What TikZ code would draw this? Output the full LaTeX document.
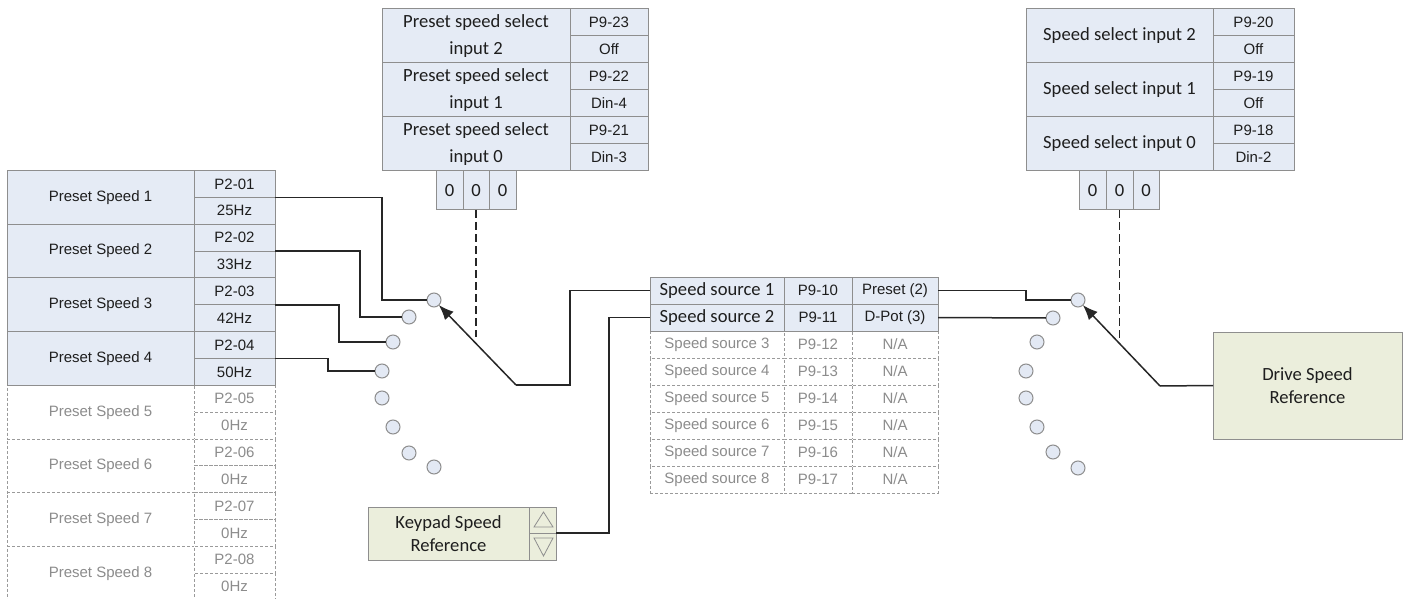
\documentclass[tikz,border=0pt]{standalone}
\usepackage{fontspec}
\setmainfont{Liberation Sans}
\newfontfamily\calibri{Carlito}
\usetikzlibrary{arrows.meta}
\definecolor{bluef}{HTML}{E5EBF5}
\definecolor{bord}{HTML}{8E8E8E}
\definecolor{dbord}{HTML}{9A9A9A}
\definecolor{txt}{HTML}{1E1E1E}
\definecolor{gtxt}{HTML}{8C8C8C}
\definecolor{greenf}{HTML}{EBEEDC}
\definecolor{circf}{HTML}{E3E9F4}
\definecolor{linec}{HTML}{262626}
\newcommand\arialf{\fontsize{7.5}{9}\selectfont}
\newcommand\calf{\calibri\fontsize{9.3}{13.85}\selectfont}
\newcommand\calfb{\calibri\fontsize{9.3}{11.5}\selectfont}
\newcommand\cellbox[7]{\node[#6, minimum width={(#4-#2)*0.5pt}, minimum height={(#5-#3)*0.5pt}] (#1) at ({(#2+#4)/2},{(#3+#5)/2}) {#7};}
\tikzset{
  cellB/.style={draw=bord, fill=bluef, text=txt, inner sep=0pt, outer sep=0pt, align=center, font=\arialf, line width=0.5pt},
  cellD/.style={draw=dbord, dash pattern=on 1.5pt off 1pt, fill=white, text=gtxt, inner sep=0pt, outer sep=0pt, align=center, font=\arialf, line width=0.4pt},
  greenbox/.style={draw=bord, fill=greenf, text=txt, inner sep=0pt, outer sep=0pt, align=center, line width=0.5pt},
  circ/.style={circle, draw=bord, fill=circf, minimum size=7pt, inner sep=0pt, outer sep=0pt, line width=0.5pt},
  conn/.style={draw=linec, line width=0.75pt},
  tip/.style={-{Latex[length=7.5pt,width=6pt]}},
  dashline/.style={draw=linec, line width=0.8pt, dash pattern=on 4pt off 2pt},
  tri/.style={draw=bord, line width=0.4pt}
}
\begin{document}
\begin{tikzpicture}[x=0.5pt, y=-0.5pt]
\useasboundingbox (0,0) rectangle (1404,599);
% ---------- left table: preset speeds ----------
\foreach \i in {5,6,7,8} {
  \pgfmathsetmacro\ta{170.5+53.7*(\i-1)}
  \pgfmathsetmacro\tb{\ta+53.7}
  \pgfmathsetmacro\tm{\ta+26.85}
  \cellbox{psn\i}{7}{\ta}{194}{\tb}{cellD}{Preset Speed \i}
  \cellbox{psp\i}{194}{\ta}{275}{\tm}{cellD}{P2-0\i}
  \cellbox{psv\i}{194}{\tm}{275}{\tb}{cellD}{0Hz}
}
\foreach \i/\hz in {1/25Hz,2/33Hz,3/42Hz,4/50Hz} {
  \pgfmathsetmacro\ta{170.5+53.7*(\i-1)}
  \pgfmathsetmacro\tb{\ta+53.7}
  \pgfmathsetmacro\tm{\ta+26.85}
  \cellbox{psn\i}{7}{\ta}{194}{\tb}{cellB}{Preset Speed \i}
  \cellbox{psp\i}{194}{\ta}{275}{\tm}{cellB}{P2-0\i}
  \cellbox{psv\i}{194}{\tm}{275}{\tb}{cellB}{\hz}
}
% ---------- top middle table ----------
\cellbox{pi2}{382}{9}{570}{63}{cellB,font=\calf}{Preset speed select\\input 2}
\cellbox{pi2p}{570}{9}{648}{36}{cellB}{P9-23}
\cellbox{pi2v}{570}{36}{648}{63}{cellB}{Off}
\cellbox{pi1}{382}{63}{570}{117}{cellB,font=\calf}{Preset speed select\\input 1}
\cellbox{pi1p}{570}{63}{648}{90}{cellB}{P9-22}
\cellbox{pi1v}{570}{90}{648}{117}{cellB}{Din-4}
\cellbox{pi0}{382}{117}{570}{171}{cellB,font=\calf}{Preset speed select\\input 0}
\cellbox{pi0p}{570}{117}{648}{144}{cellB}{P9-21}
\cellbox{pi0v}{570}{144}{648}{171}{cellB}{Din-3}
\cellbox{zl1}{436}{171}{463}{210}{cellB,font=\calf}{0}
\cellbox{zl2}{463}{171}{489}{210}{cellB,font=\calf}{0}
\cellbox{zl3}{489}{171}{516}{210}{cellB,font=\calf}{0}
% ---------- top right table ----------
\cellbox{si2}{1026}{9}{1213}{63}{cellB,font=\calf}{Speed select input 2}
\cellbox{si2p}{1213}{9}{1294}{36}{cellB}{P9-20}
\cellbox{si2v}{1213}{36}{1294}{63}{cellB}{Off}
\cellbox{si1}{1026}{63}{1213}{117}{cellB,font=\calf}{Speed select input 1}
\cellbox{si1p}{1213}{63}{1294}{90}{cellB}{P9-19}
\cellbox{si1v}{1213}{90}{1294}{117}{cellB}{Off}
\cellbox{si0}{1026}{117}{1213}{171}{cellB,font=\calf}{Speed select input 0}
\cellbox{si0p}{1213}{117}{1294}{144}{cellB}{P9-18}
\cellbox{si0v}{1213}{144}{1294}{171}{cellB}{Din-2}
\cellbox{zr1}{1079}{171}{1106}{210}{cellB,font=\calf}{0}
\cellbox{zr2}{1106}{171}{1133}{210}{cellB,font=\calf}{0}
\cellbox{zr3}{1133}{171}{1159}{210}{cellB,font=\calf}{0}
% ---------- middle table: speed sources ----------
\foreach \i in {3,...,8} {
  \pgfmathsetmacro\ta{277+27*(\i-1)}
  \pgfmathsetmacro\tb{\ta+27}
  \pgfmathtruncatemacro\pn{9+\i}
  \cellbox{ssn\i}{650}{\ta}{784}{\tb}{cellD}{Speed source \i}
  \cellbox{ssp\i}{784}{\ta}{852}{\tb}{cellD}{P9-\pn}
  \cellbox{ssv\i}{852}{\ta}{938}{\tb}{cellD}{N/A}
}
\cellbox{ssn1}{650}{277}{784}{304}{cellB,font=\calf}{Speed source 1}
\cellbox{ssp1}{784}{277}{852}{304}{cellB}{P9-10}
\cellbox{ssv1}{852}{277}{938}{304}{cellB}{Preset (2)}
\cellbox{ssn2}{650}{304}{784}{331}{cellB,font=\calf}{Speed source 2}
\cellbox{ssp2}{784}{304}{852}{331}{cellB}{P9-11}
\cellbox{ssv2}{852}{304}{938}{331}{cellB}{D-Pot (3)}
% ---------- keypad and drive reference ----------
\cellbox{kp}{368}{507}{529}{560}{greenbox,font=\calfb}{Keypad Speed\\Reference}
\cellbox{kup}{529}{507}{556}{533}{greenbox}{}
\cellbox{kdn}{529}{533}{556}{560}{greenbox}{}
\draw[tri] (534,527) -- (553,527) -- (543.5,512) -- cycle;
\draw[tri] (534,538) -- (553,538) -- (543.5,556) -- cycle;
\cellbox{drive}{1213}{332}{1402}{439}{greenbox,font=\calfb}{Drive Speed\\Reference}
% ---------- selector circles ----------
\foreach \n/\x/\y in {1/434/300, 2/409/317, 3/393/342, 4/382/371, 5/382/398, 6/393/427, 7/409/453, 8/434/467}
  \node[circ] (lc\n) at (\x,\y) {};
\foreach \n/\x/\y in {1/1078/300, 2/1053/318, 3/1037/342, 4/1026/371, 5/1026/398, 6/1037/427, 7/1053/452, 8/1078/468}
  \node[circ] (rc\n) at (\x,\y) {};
% ---------- connectors ----------
\draw[conn] (psv1.north east) -- ++(107,0) |- (lc1.west);
\draw[conn] (psv2.north east) -- ++(85,0) |- (lc2.west);
\draw[conn] (psv3.north east) -- ++(64,0) |- (lc3.west);
\draw[conn] (psv4.north east) -- ++(53,0) |- (lc4.west);
\coordinate (la) at (516,385);
\coordinate (lj) at (570,385);
\draw[conn] (ssn1.west) -| (lj) -- (la);
\draw[conn,tip] (la) -- (lc1);
\draw[conn] (kup.south east) -- ++(53,0) |- (ssn2.west);
\draw[conn] (ssv1.east) -- ++(88,0) |- (rc1.west);
\draw[conn] (ssv2.east) -- (rc2.west);
\coordinate (ra) at (1160,386);
\draw[conn] (drive.west) -- (ra);
\draw[conn,tip] (ra) -- (rc1);
\draw[dashline] (zl2.south) -- ++(0,127);
\draw[dashline] (zr2.south) -- ++(0,128);
\end{tikzpicture}
\end{document}
